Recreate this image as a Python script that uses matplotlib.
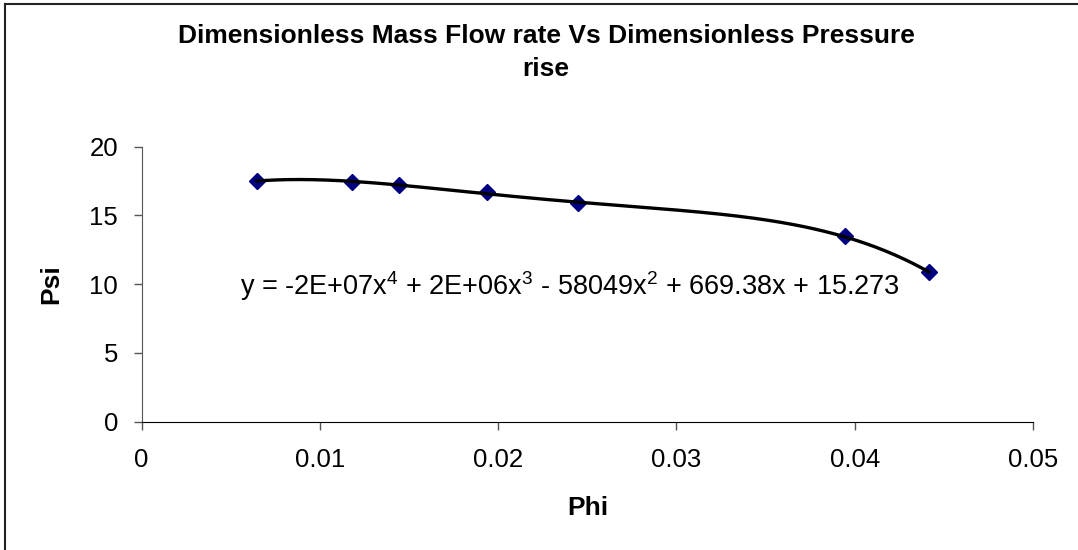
import numpy as np
import matplotlib.pyplot as plt
from matplotlib.lines import Line2D

plt.rcParams["font.family"] = ["Liberation Sans", "DejaVu Sans"]
plt.rcParams["mathtext.fontset"] = "custom"
plt.rcParams["mathtext.rm"] = "Liberation Sans"
plt.rcParams["mathtext.default"] = "regular"

# measured points: dimensionless mass flow vs pressure rise
phi = [0.00645, 0.01178, 0.01445, 0.01938, 0.02449, 0.03944, 0.04416]
psi = [17.51, 17.39, 17.22, 16.67, 15.87, 13.46, 10.87]

x_ticks = [0, 0.01, 0.02, 0.03, 0.04, 0.05]
x_tick_labels = ["0", "0.01", "0.02", "0.03", "0.04", "0.05"]
y_ticks = [0, 5, 10, 15, 20]

equation = (r"y = -2E+07x$^4$ + 2E+06x$^3$ - 58049x$^2$"
            r" + 669.38x + 15.273")

fig = plt.figure(figsize=(10.78, 5.5), dpi=100)
ax = fig.add_axes([0.1314, 0.2333, 0.8269, 0.5003])

# 4th order polynomial trendline
coef = np.polyfit(phi, psi, 4)
xs = np.linspace(min(phi), max(phi), 200)
ax.plot(xs, np.polyval(coef, xs), color="black", lw=2.4, zorder=3)
ax.plot(phi, psi, linestyle="none", marker="D", ms=8.5,
        color="#000080", zorder=2)

ax.set_xlim(0, 0.05)
ax.set_ylim(0, 20)
ax.set_xticks(x_ticks)
ax.set_xticklabels(x_tick_labels)
ax.set_yticks(y_ticks)
ax.tick_params(axis="both", direction="out", length=6, width=1,
               color="#555555", labelsize=18.5)
ax.tick_params(axis="x", pad=13)
ax.tick_params(axis="y", pad=11)

for side in ["top", "right"]:
    ax.spines[side].set_visible(False)
ax.spines["left"].set_color("#555555")
ax.spines["bottom"].set_color("black")

ax.set_xlabel("Phi", fontsize=19, fontweight="bold", labelpad=17)
ax.set_ylabel("Psi", fontsize=19, fontweight="bold", labelpad=19)

ax.text(0.0240, 9.83, equation, fontsize=19.5, ha="center", va="center")

fig.text(0.5065, 0.905, "Dimensionless Mass Flow rate Vs Dimensionless Pressure\nrise",
         ha="center", va="center", fontsize=19, fontweight="bold",
         linespacing=1.47)

# chart frame (top and left edges)
fig.lines.append(Line2D([0.0046, 1.0], [0.9927, 0.9927], transform=fig.transFigure,
                        color="#222222", lw=1.5))
fig.lines.append(Line2D([0.0046, 0.0046], [0.0, 0.9927], transform=fig.transFigure,
                        color="#222222", lw=1.5))

fig.savefig("out.png", dpi=100)
